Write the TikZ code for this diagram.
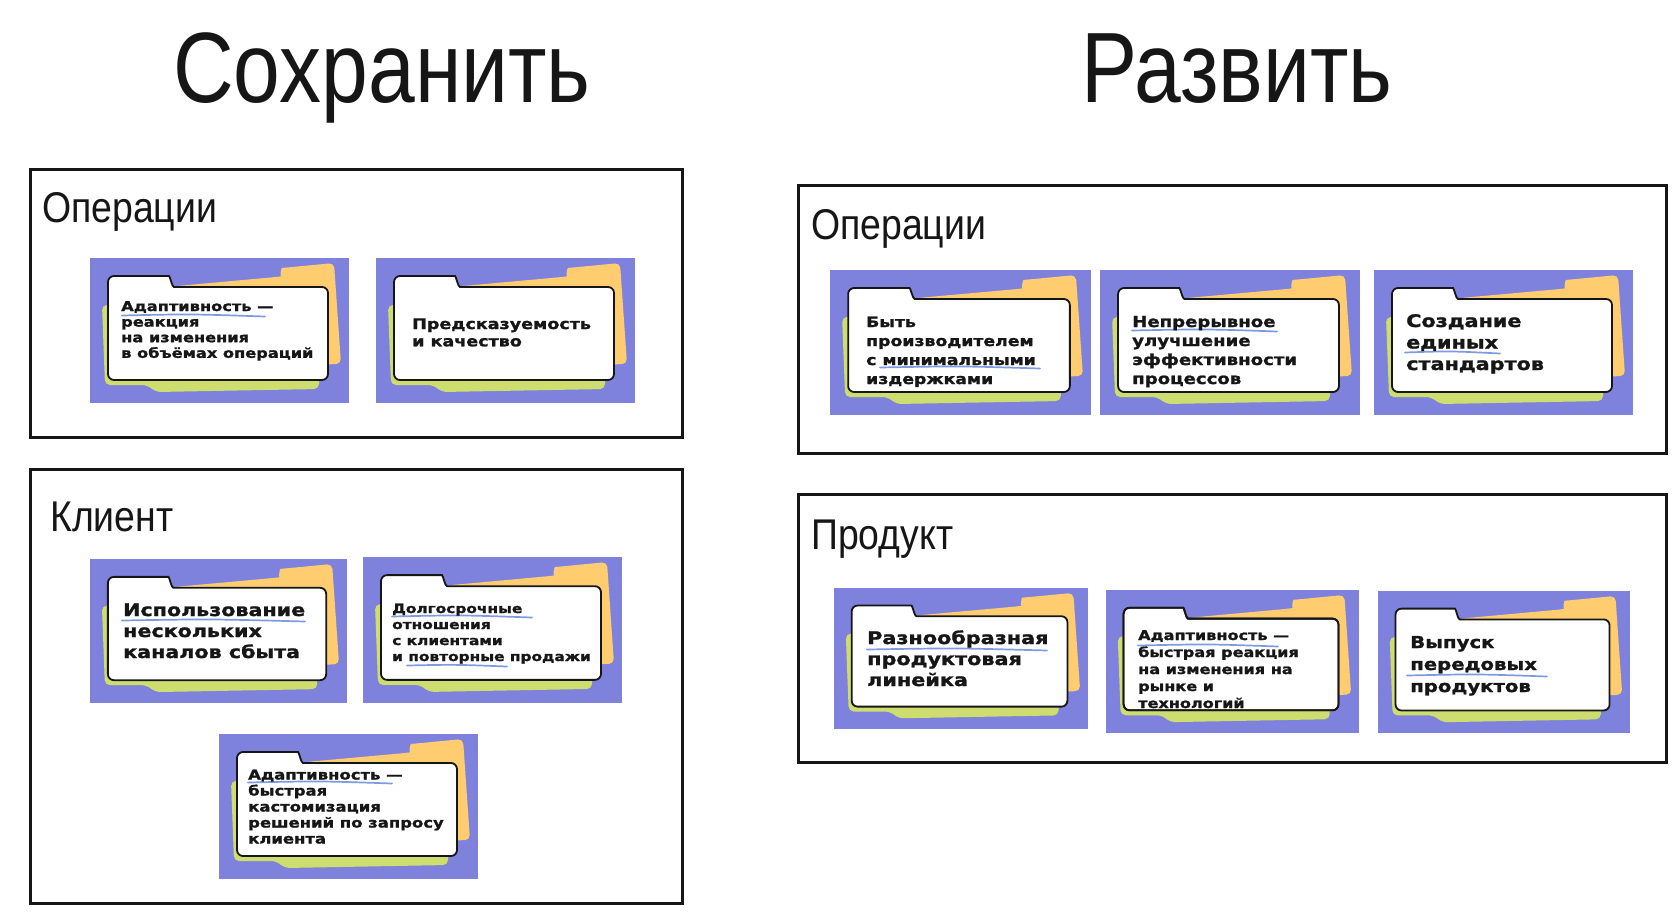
\documentclass[tikz,border=0pt]{standalone}
\usepackage{fontspec}
\newfontfamily\headfont[FakeStretch=0.84]{Liberation Sans}
\newfontfamily\labfont[FakeStretch=0.87]{Liberation Sans}
\newfontfamily\cardfont[FakeStretch=1.2,BoldFeatures={FakeBold=1.4}]{DejaVu Sans}
\definecolor{cpurple}{RGB}{127,130,220}
\definecolor{cyellow}{RGB}{255,204,112}
\definecolor{cgreen}{RGB}{205,221,110}
\definecolor{ulblue}{RGB}{125,155,225}
\definecolor{ink}{RGB}{22,22,22}
\tikzset{
  panel/.style={draw=ink, line width=3pt},
  whitecard/.style={fill=white, draw=ink, line width=1.8pt, rounded corners=6pt},
  cardtext/.style 2 args={anchor=base west, align=left, inner sep=0pt, text=ink,
     font=\cardfont\bfseries\fontsize{#1}{#2}\selectfont},
  title/.style={anchor=base, inner sep=0pt, text=ink, font=\headfont\fontsize{100}{110}\selectfont},
  plabel/.style={anchor=base west, inner sep=0pt, text=ink, font=\labfont\fontsize{43}{50}\selectfont},
  uline/.style={draw=ulblue, line width=1.7pt, line cap=round},
}
\newcommand\whitepath{(18,122) -- (18,18) -- (73,18) .. controls (80,18) and (82,29) .. (90,29) -- (238,29) -- (238,122) -- cycle}
\newcommand\cardback[4]{%
  \begin{scope}[shift={(#1,#2)},xscale=#3/259,yscale=#4/145]
    \fill[cpurple] (0,0) rectangle (259,145);
    \fill[cyellow,rounded corners=5pt] (60,34) -- (87,28) -- (186,19) .. controls (190,18.5) and (191,10) .. (197,9.5) -- (244,5) -- (251,106) -- (60,111) -- cycle;
    \fill[cgreen,rounded corners=5pt] (12,47) -- (229,40) -- (229,131) -- (66,134) -- (57,127) -- (15,127) -- cycle;
    \draw[whitecard] \whitepath;
  \end{scope}}
\newcommand\cardstroke[4]{%
  \begin{scope}[shift={(#1,#2)},xscale=#3/259,yscale=#4/145]
    \draw[whitecard, fill=none] \whitepath;
  \end{scope}}
\begin{document}
\begin{tikzpicture}[x=1pt,y=-1pt]
\useasboundingbox (0,0) rectangle (1680,916);
\fill[white] (0,0) rectangle (1680,916);

% titles
\node[title] (t1) at (382,102) {Сохранить};
\node[title] (t2) at (1237,102) {Развить};

% panels
\draw[panel] (30,169) rectangle (682,437);
\draw[panel] (30,469) rectangle (682,903);
\draw[panel] (798,185) rectangle (1666,453);
\draw[panel] (798,494) rectangle (1666,762);

\node[plabel] (l1) at (42,222) {Операции};
\node[plabel] (l2) at (50,531) {Клиент};
\node[plabel] (l3) at (811,239) {Операции};
\node[plabel] (l4) at (811,549) {Продукт};

% card A
\cardback{90}{258}{259}{145}
\draw[uline] (122,315.5) .. controls (190,314) .. (265,316.5);
\node[cardtext={13.5}{15.6}] (cA) at (121,357.8) {Адаптивность —\\реакция\\на изменения\\в объёмах операций};

% card B
\cardback{376}{258}{259}{145}
\node[cardtext={14.6}{17.3}] (cB) at (412,346.3) {Предсказуемость\\и качество};

% card C
\cardback{90}{559}{257}{144}
\draw[uline] (122,620.5) .. controls (210,619) .. (305,621.5);
\node[cardtext={17.2}{21}] (cC) at (123,658) {Использование\\нескольких\\каналов сбыта};

% card D
\cardback{363}{557}{259}{146}
\draw[uline] (392,616.5) .. controls (460,615) .. (532,617.5);
\draw[uline] (407,665.5) .. controls (455,664.5) .. (507,666.5);
\node[cardtext={12.8}{16}] (cD) at (392,661) {Долгосрочные\\отношения\\с клиентами\\и повторные продажи};

% card E
\cardback{219}{734}{259}{145}
\draw[uline] (248,782.5) .. controls (320,781) .. (392,783.5);
\node[cardtext={13.7}{16}] (cE) at (248,843.5) {Адаптивность —\\быстрая\\кастомизация\\решений по запросу\\клиента};

% card F
\cardback{830}{270}{261}{145}
\draw[uline] (880,367.5) .. controls (960,366) .. (1040,368.5);
\node[cardtext={14.4}{19}] (cF) at (866,384) {Быть\\производителем\\с минимальными\\издержками};

% card G
\cardback{1100}{270}{260}{145}
\draw[uline] (1132,330.5) .. controls (1205,329) .. (1277,331.5);
\node[cardtext={15.1}{19}] (cG) at (1132,384) {Непрерывное\\улучшение\\эффективности\\процессов};

% card H
\cardback{1374}{270}{259}{145}
\draw[uline] (1405,352.5) .. controls (1450,351) .. (1500,353.5);
\node[cardtext={17.3}{21.5}] (cH) at (1406,370) {Создание\\единых\\стандартов};

% card I
\cardback{834}{588}{254}{141}
\draw[uline] (867,649.5) .. controls (955,648) .. (1047,650.5);
\node[cardtext={17.3}{21}] (cI) at (867,686) {Разнообразная\\продуктовая\\линейка};

% card J
\cardback{1106}{590}{253}{143}
\draw[uline] (1138,645.5) .. controls (1208,644) .. (1278,646.5);
\begin{scope}
  \clip (1120,600) rectangle (1350,710);
  \node[cardtext={13.4}{17}] (cJ) at (1138,708) {Адаптивность —\\быстрая реакция\\на изменения на\\рынке и\\технологий};
\end{scope}
\cardstroke{1106}{590}{253}{143}

% card K
\cardback{1378}{591}{252}{142}
\draw[uline] (1407,675.5) .. controls (1477,674) .. (1547,676.5);
\node[cardtext={16.4}{22}] (cK) at (1410,692) {Выпуск\\передовых\\продуктов};
\end{tikzpicture}
\end{document}
